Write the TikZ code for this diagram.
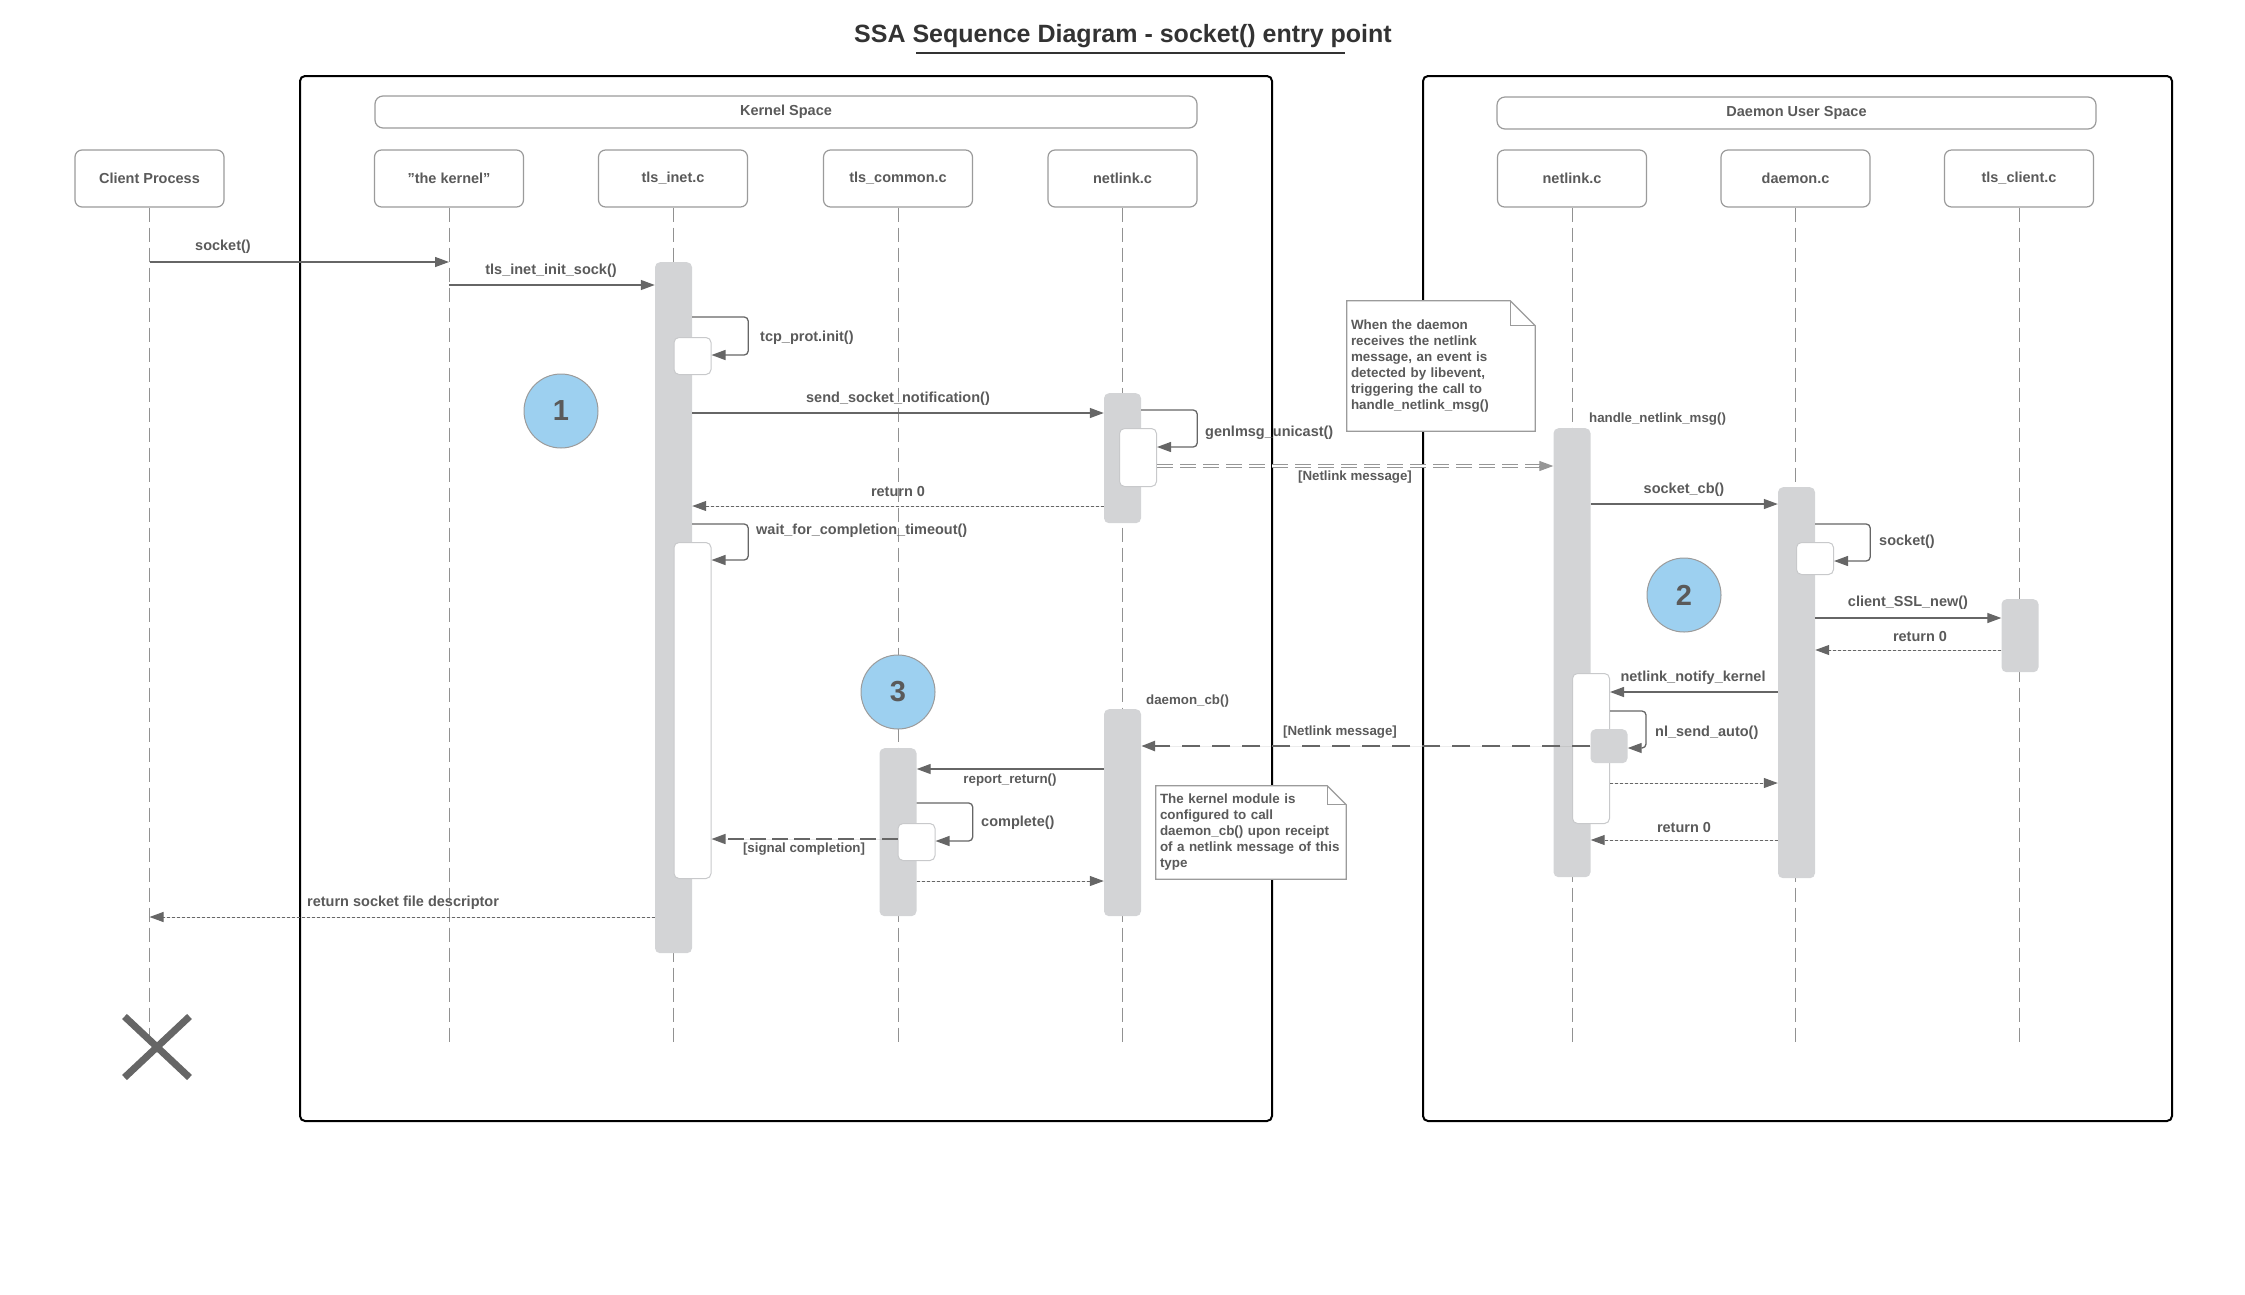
\documentclass[tikz,border=0pt]{standalone}
\usepackage{fontspec}
\setmainfont{Liberation Sans}
\usepackage{xcolor}
\usepackage{tikz}
\usetikzlibrary{shapes, arrows.meta, positioning}
\definecolor{titlegray}{RGB}{51, 51, 51}
\definecolor{labelgray}{RGB}{90, 90, 90}
\definecolor{arrowgray}{RGB}{102, 102, 102}
\definecolor{boxgray}{RGB}{155, 155, 155}
\definecolor{lifegray}{RGB}{145, 145, 145}
\definecolor{bargray}{RGB}{211, 212, 214}
\definecolor{actgray}{RGB}{200, 201, 203}
\definecolor{stepblue}{RGB}{157, 208, 240}
\definecolor{msggray}{RGB}{150, 150, 150}
\newcommand{\seqmsgfont}{\fontsize{14.5}{16}\selectfont\bfseries}
\newcommand{\seqminorfont}{\fontsize{13.3}{16}\selectfont\bfseries}
\newcommand{\seqnotefont}{\fontsize{13.4}{16}\selectfont\bfseries}

\begin{document}
\begin{tikzpicture}[x=1pt, y=-1pt, >={Triangle[length=14pt, width=10pt]},
    head/.style={draw=boxgray, line width=1.2pt, rounded corners=7pt, fill=white, minimum width=149pt, minimum height=57pt, text=labelgray, font=\seqmsgfont},
    band/.style={draw=boxgray, line width=1.2pt, rounded corners=8pt, fill=white, minimum height=32pt, text=labelgray, font=\seqmsgfont},
    frame/.style={draw=black, line width=2pt, rounded corners=5pt, anchor=north west},
    life/.style={draw=lifegray, line width=1pt, dash pattern=on 14pt off 6pt},
    bar/.style={fill=bargray, rounded corners=5pt, minimum width=37pt, inner sep=0pt, anchor=north},
    act/.style={fill=white, draw=actgray, line width=1pt, rounded corners=5pt, minimum width=37pt, inner sep=0pt, anchor=north},
    msg/.style={draw=arrowgray, fill=arrowgray, line width=1.3pt, ->},
    ret/.style={draw=arrowgray, fill=arrowgray, line width=1pt, dash pattern=on 3pt off 2pt, ->},
    signal/.style={draw=arrowgray, fill=arrowgray, line width=1.5pt, dash pattern=on 16pt off 6pt, ->},
    netmsg/.style={draw=arrowgray, fill=arrowgray, line width=2.7pt, dash pattern=on 18pt off 12pt, ->},
    netmsgdbl/.style={draw=msggray, line width=1pt, double=white, double distance=2.5pt, dash pattern=on 16pt off 7pt},
    netmsgtip/.style={draw=msggray, fill=msggray, line width=1pt, ->},
    txt/.style={text=labelgray, font=\seqmsgfont, inner sep=0pt},
    minortxt/.style={text=labelgray, font=\seqminorfont, inner sep=0pt},
    stepmark/.style={circle, fill=stepblue, draw=boxgray, line width=1pt, minimum size=74pt, inner sep=0pt, text=labelgray, font=\fontsize{29}{30}\selectfont\bfseries},
    note/.style={fill=white, inner xsep=4pt, inner ysep=0pt, align=left, text=labelgray, font=\seqnotefont},
    noteline/.style={draw=boxgray, line width=1.2pt}]

    \useasboundingbox (0,0) rectangle (2245,1294);

    % Title
    \node[font=\fontsize{25}{28}\selectfont\bfseries, text=titlegray] at (1123,36) (title) {SSA Sequence Diagram - socket() entry point};
    \draw[titlegray, line width=1.3pt] (916,53) -- (1345,53);

    % Frames
    \node[frame, minimum width=972pt, minimum height=1045pt] at (299,75) (kernelframe) {};
    \node[frame, minimum width=749pt, minimum height=1045pt] at (1422,75) (daemonframe) {};
    \node[band, minimum width=822pt] at (786,112) (kernelspace) {Kernel Space};
    \node[band, minimum width=599pt] at (1796.5,113) (daemonspace) {Daemon User Space};

    % Lifeline heads
    \node[head] at (149.5,178.5) (client) {Client Process};
    \node[head] at (449,178.5) (kernel) {"the kernel"};
    \node[head] at (673,178.5) (inet) {tls\_inet.c};
    \node[head] at (898,178.5) (common) {tls\_common.c};
    \node[head] at (1122.5,178.5) (nlk) {netlink.c};
    \node[head] at (1572,178.5) (nld) {netlink.c};
    \node[head] at (1795.5,178.5) (daemon) {daemon.c};
    \node[head] at (2019,178.5) (tlsclient) {tls\_client.c};

    % Lifelines
    \draw[life] (client.south) -- (client.south |- 0,1047);
    \draw[life] (kernel.south) -- (kernel.south |- 0,1047);
    \draw[life] (inet.south) -- (inet.south |- 0,1047);
    \draw[life] (common.south) -- (common.south |- 0,1047);
    \draw[life] (nlk.south) -- (nlk.south |- 0,1047);
    \draw[life] (nld.south) -- (nld.south |- 0,1047);
    \draw[life] (daemon.south) -- (daemon.south |- 0,1047);
    \draw[life] (tlsclient.south) -- (tlsclient.south |- 0,1047);
    \node[cross out, draw=arrowgray, line width=7pt, minimum width=58pt, minimum height=54pt, inner sep=0pt] at (157,1047) (clientend) {};

    % Activation bars
    \node[bar, minimum height=691pt] at (673.5,262) (inetbar) {};
    \node[act, minimum height=37pt] at (692.5,337) (inetact1) {};
    \node[act, minimum height=336pt] at (692.5,542) (inetact2) {};
    \node[bar, minimum height=130pt] at (1122.5,393) (nlkbar1) {};
    \node[act, minimum height=58pt] at (1138,428) (nlkact1) {};
    \node[bar, minimum height=207pt] at (1122.5,709) (nlkbar2) {};
    \node[bar, minimum height=168pt] at (898,748) (commonbar) {};
    \node[act, minimum height=37pt] at (916.5,823) (commonact) {};
    \node[bar, minimum height=449pt] at (1572,428) (nldbar) {};
    \node[act, minimum height=150pt] at (1591,673) (nldact) {};
    \node[bar, minimum height=34pt] at (1609,729) (nldsend) {};
    \node[bar, minimum height=391pt] at (1796.5,487) (daemonbar) {};
    \node[act, minimum height=32pt] at (1815,542) (daemonact) {};
    \node[bar, minimum height=73pt] at (2020,599) (clientbar) {};

    % Kernel side messages
    \draw[msg] (client.south |- 0,262) -- (kernel.south |- 0,262);
    \node[txt] at (223,247) (lsocket) {socket()};
    \draw[msg] (kernel.south |- 0,285) -- (inetbar.west |- 0,285);
    \node[txt] at (551,271) (linitsock) {tls\_inet\_init\_sock()};
    \draw[msg, fill=none, rounded corners=4pt] (inetbar.east |- 0,317) -- ++(56,0) |- (inetact1.east |- 0,355);
    \node[txt, anchor=west] at (760,338) (ltcpinit) {tcp\_prot.init()};
    \draw[msg] (inetbar.east |- 0,413) -- (nlkbar1.west |- 0,413);
    \node[txt] at (898,399) (lsendnotif) {send\_socket\_notification()};
    \draw[msg, fill=none, rounded corners=4pt] (nlkbar1.east |- 0,410) -- ++(56,0) |- (nlkact1.east |- 0,447);
    \node[txt, anchor=west] at (1205,433) (lgenlmsg) {genlmsg\_unicast()};
    \draw[netmsgdbl, shorten >=12pt] (nlkact1.east |- 0,466) -- (nldbar.west |- 0,466);
    \draw[netmsgtip] (nldbar.west |- 0,466) ++(-14,0) -- (nldbar.west |- 0,466);
    \node[minortxt] at (1355,477) (lnetmsg1) {[Netlink message]};
    \draw[ret] (nlkbar1.west |- 0,506) -- (inetbar.east |- 0,506);
    \node[txt] at (898,491) (lret1) {return 0};
    \draw[msg, fill=none, rounded corners=4pt] (inetbar.east |- 0,524) -- ++(56,0) |- (inetact2.east |- 0,560);
    \node[txt, anchor=west] at (756,531) (lwait) {wait\_for\_completion\_timeout()};

    % Daemon side messages
    \node[minortxt, anchor=west] at (1589,419) (lhandle) {handle\_netlink\_msg()};
    \draw[msg] (nldbar.east |- 0,504) -- (daemonbar.west |- 0,504);
    \node[txt] at (1684,490) (lsocketcb) {socket\_cb()};
    \draw[msg, fill=none, rounded corners=4pt] (daemonbar.east |- 0,524) -- ++(55,0) |- (daemonact.east |- 0,561);
    \node[txt, anchor=west] at (1879,542) (ldsocket) {socket()};
    \draw[msg] (daemonbar.east |- 0,618) -- (clientbar.west |- 0,618);
    \node[txt] at (1908,603) (lsslnew) {client\_SSL\_new()};
    \draw[ret] (clientbar.west |- 0,650) -- (daemonbar.east |- 0,650);
    \node[txt] at (1920,636) (lret2) {return 0};
    \draw[msg] (daemonbar.west |- 0,692) -- (nldact.east |- 0,692);
    \node[txt] at (1693,678) (lnotify) {netlink\_notify\_kernel};
    \draw[msg, fill=none, rounded corners=4pt] (nldact.east |- 0,711) -- ++(36,0) |- (nldsend.east |- 0,748);
    \node[txt, anchor=west] at (1655,733) (lsendauto) {nl\_send\_auto()};
    \draw[netmsg] (nldsend.west |- 0,746) -- (nlkbar2.east |- 0,746);
    \node[minortxt] at (1340,732) (lnetmsg2) {[Netlink message]};
    \draw[ret] (nldact.east |- 0,783) -- (daemonbar.west |- 0,783);
    \draw[ret] (daemonbar.west |- 0,840) -- (nldbar.east |- 0,840);
    \node[txt] at (1684,827) (lret3) {return 0};

    % Completion back in the kernel
    \node[minortxt, anchor=west] at (1146,701) (ldaemoncb) {daemon\_cb()};
    \draw[msg] (nlkbar2.west |- 0,769) -- (commonbar.east |- 0,769);
    \node[minortxt] at (1010,780) (lreport) {report\_return()};
    \draw[msg, fill=none, rounded corners=4pt] (commonbar.east |- 0,803) -- ++(56,0) |- (commonact.east |- 0,841);
    \node[txt, anchor=west] at (981,823) (lcomplete) {complete()};
    \draw[signal] (commonact.west |- 0,839) -- (inetact2.east |- 0,839);
    \node[minortxt] at (804,849) (lsignal) {[signal completion]};
    \draw[ret] (commonbar.east |- 0,881) -- (nlkbar2.west |- 0,881);
    \draw[ret] (inetbar.west |- 0,917) -- (client.south |- 0,917);
    \node[txt, anchor=west] at (307,903) (lretfd) {return socket file descriptor};

    % Notes
    \node[note, minimum width=188pt, minimum height=130pt, text width=180pt] at (1441,366) (daemonnote) {When the daemon\\receives the netlink\\message, an event is\\detected by libevent,\\triggering the call to\\handle\_netlink\_msg()};
    \draw[noteline] (daemonnote.north west) -- ([xshift=-25pt]daemonnote.north east) -- ([yshift=-25pt]daemonnote.north east) -- (daemonnote.south east) -- (daemonnote.south west) -- cycle;
    \draw[noteline] ([xshift=-25pt]daemonnote.north east) |- ([yshift=-25pt]daemonnote.north east);
    \node[note, minimum width=190pt, minimum height=93pt, text width=182pt] at (1251,832.5) (kernelnote) {The kernel module is\\configured to call\\daemon\_cb() upon receipt\\of a netlink message of this\\type};
    \draw[noteline] (kernelnote.north west) -- ([xshift=-19pt]kernelnote.north east) -- ([yshift=-19pt]kernelnote.north east) -- (kernelnote.south east) -- (kernelnote.south west) -- cycle;
    \draw[noteline] ([xshift=-19pt]kernelnote.north east) |- ([yshift=-19pt]kernelnote.north east);

    % Steps
    \node[stepmark] at (561,411) (step1) {1};
    \node[stepmark] at (1684,595) (step2) {2};
    \node[stepmark] at (898,692) (step3) {3};

\end{tikzpicture}
\end{document}
